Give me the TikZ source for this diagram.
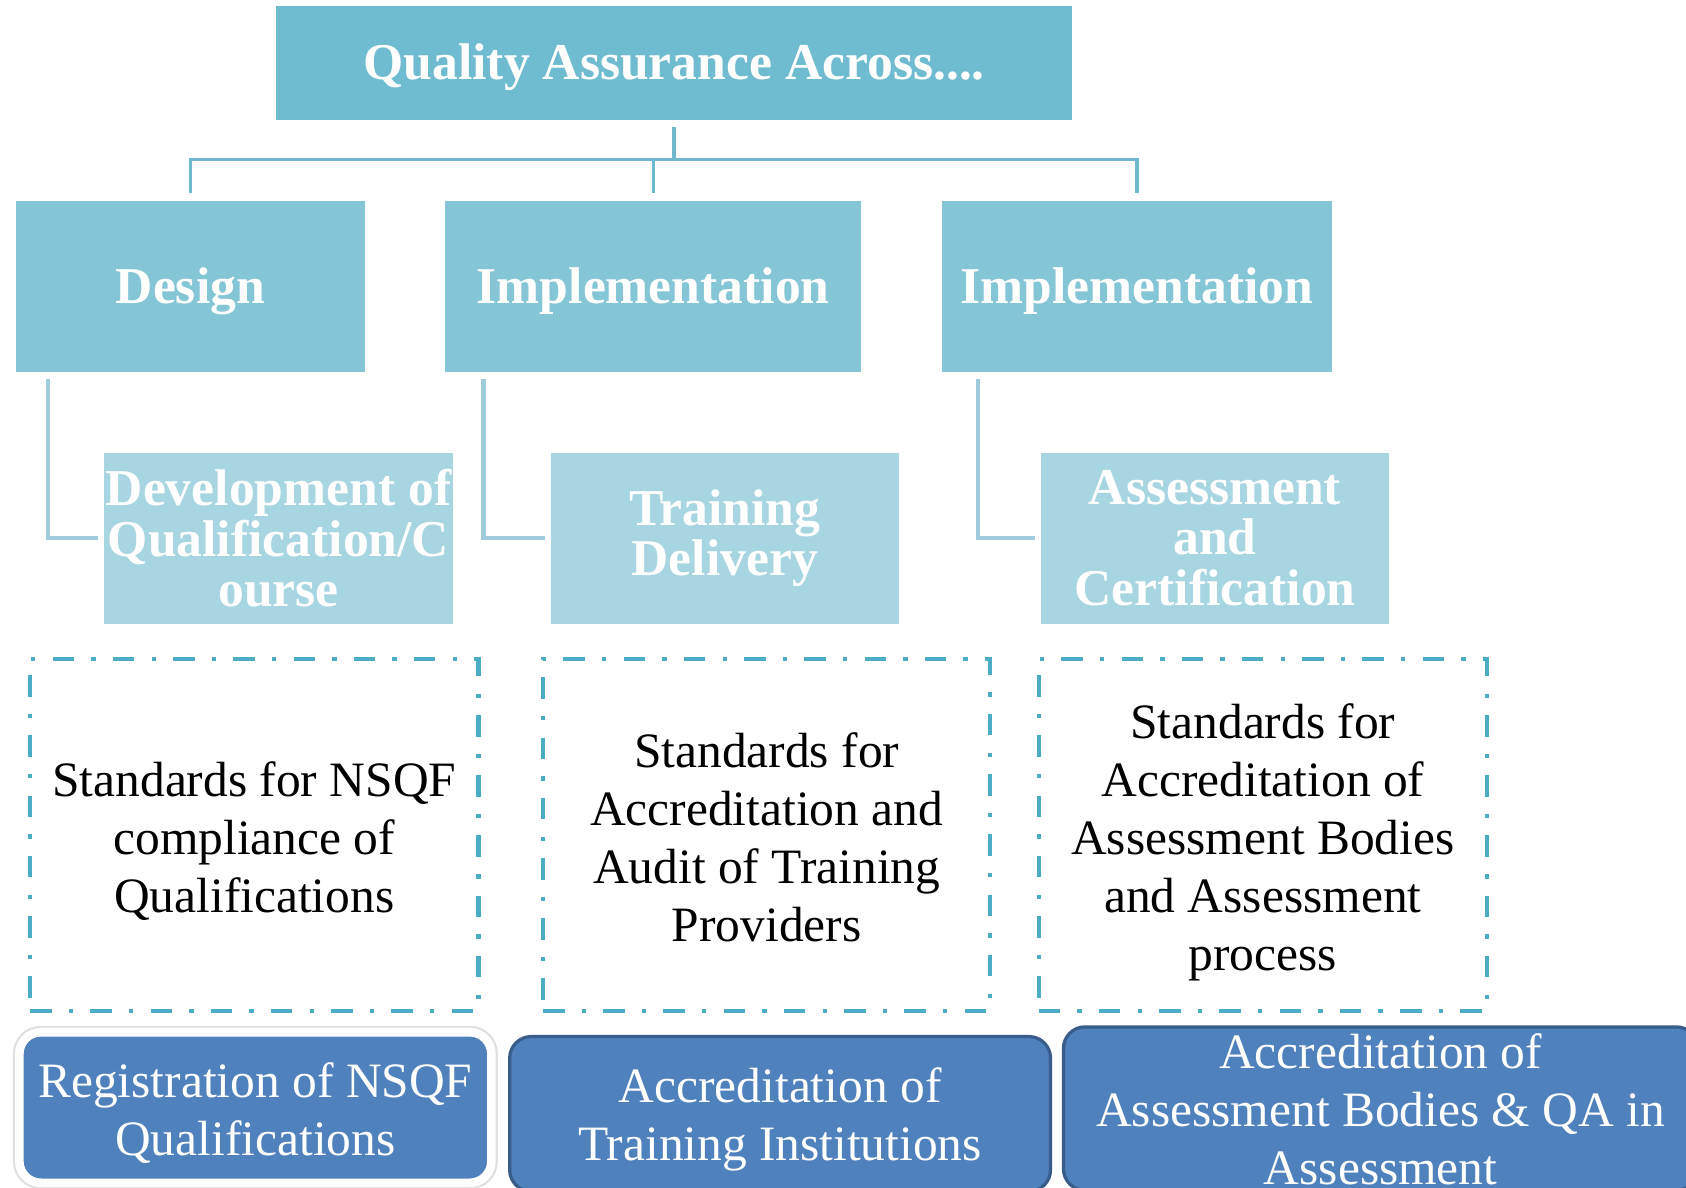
\documentclass[tikz,border=0pt]{standalone}
\usepackage{fontspec}
\setmainfont{Liberation Serif}
\definecolor{topc}{HTML}{6FBCD0}
\definecolor{midc}{HTML}{84C5D6}
\definecolor{lowc}{HTML}{A8D5E2}
\definecolor{connc}{HTML}{70B8CD}
\definecolor{elbc}{HTML}{9FCCDB}
\definecolor{dashc}{HTML}{4BACC6}
\definecolor{botc}{HTML}{4F81BD}
\definecolor{botb}{HTML}{385D8A}
\tikzset{
  hbox/.style={rectangle, inner sep=0pt, text=white, align=center,
    font=\bfseries\fontsize{24}{28}\selectfont},
  topbox/.style={hbox, fill=topc},
  midbox/.style={hbox, fill=midc, minimum height=79.5pt},
  lowbox/.style={hbox, fill=lowc, minimum width=162pt, minimum height=79.5pt,
    font=\bfseries\fontsize{24}{23.5}\selectfont},
  stdbox/.style={rectangle, inner sep=0pt, draw=dashc, line width=2pt,
    dash pattern=on 10pt off 8pt on 2pt off 8pt, minimum height=163.5pt},
  stdtext/.style={inner sep=0pt, align=center, font=\fontsize{23}{27}\selectfont},
  botbox/.style={rectangle, rounded corners=10pt, inner sep=0pt, fill=botc},
  bottext/.style={inner sep=0pt, text=white, align=center, font=\fontsize{23}{27}\selectfont},
  conn/.style={draw=connc, line width=1.6pt},
  elbow/.style={draw=elbc, line width=2pt}
}
\begin{document}
\begin{tikzpicture}[x=0.5pt,y=-0.5pt]
\useasboundingbox (0,0) rectangle (1568,1104);
\fill[white] (0,0) rectangle (1568,1104);
\clip (0,0) rectangle (1568,1104);

% top
\node[topbox, minimum width=370pt, minimum height=53pt] (top) at (627,59) {};
\node[hbox] (toptext) at ([yshift=-1.5pt]top.center) {Quality Assurance Across....};

% second row
\node[midbox, minimum width=162pt] (design) at (177,266.5) {};
\node[midbox, minimum width=193.5pt] (impla) at (607.5,266.5) {};
\node[midbox, minimum width=181.5pt] (implb) at (1057.5,266.5) {};
\node[hbox] (designtext) at ([yshift=-2pt]design.center) {Design};
\node[hbox] (implatext) at ([yshift=-2pt]impla.center) {Implementation};
\node[hbox] (implbtext) at ([yshift=-2pt]implb.center) {Implementation};

% third row
\node[lowbox] (dev) at (259,500.5) {Development of\\Qualification/C\\ourse};
\node[lowbox] (train) at (674,500.5) {Training\\Delivery};
\node[lowbox] (assess) at (1130,500.5) {Assessment\\and\\Certification};

% connectors from top
\draw[conn] ([yshift=-3pt]top.south) -- ++(0,30) -| ([yshift=3.5pt]design.north);
\draw[conn] ([yshift=-3pt]top.south) -- ++(0,30) -| ([yshift=3.5pt]impla.north);
\draw[conn] ([yshift=-3pt]top.south) -- ++(0,30) -| ([yshift=3.5pt]implb.north);

% elbows
\draw[elbow] ([xshift=15pt,yshift=-3pt]design.south west) |- ([xshift=-2.5pt]dev.west);
\draw[elbow] ([xshift=18pt,yshift=-3pt]impla.south west) |- ([xshift=-2.5pt]train.west);
\draw[elbow] ([xshift=17pt,yshift=-3pt]implb.south west) |- ([xshift=-2.5pt]assess.west);

% standards boxes
\node[stdbox, minimum width=208.5pt] (stda) at (236.5,776.5) {};
\node[stdbox, minimum width=208pt] (stdb) at (713,776.5) {};
\node[stdbox, minimum width=208.5pt] (stdc) at (1174.5,776.5) {};
\node[stdtext] (stdatext) at ([yshift=-3pt]stda.center) {Standards for NSQF\\compliance of\\Qualifications};
\node[stdtext] (stdbtext) at ([yshift=-1pt]stdb.center) {Standards for\\Accreditation and\\Audit of Training\\Providers};
\node[stdtext] (stdctext) at ([yshift=-3.5pt]stdc.center) {Standards for\\Accreditation of\\Assessment Bodies\\and Assessment\\process};

% bottom boxes
\node[botbox, minimum width=219.5pt, minimum height=70pt, draw=white, line width=4pt,
  preaction={draw=black!12, line width=6pt}] (rega) at (237.5,1030) {};
\node[botbox, minimum width=251.5pt, minimum height=72pt, draw=botb, line width=1.5pt] (regb) at (725.5,1036) {};
\node[botbox, minimum width=295pt, minimum height=76pt, draw=botb, line width=1.5pt] (regc) at (1284,1031) {};
\node[bottext] (regatext) at ([yshift=-2.5pt]rega.center) {Registration of NSQF\\Qualifications};
\node[bottext] (regbtext) at ([yshift=-2.5pt]regb.center) {Accreditation of\\Training Institutions};
\node[bottext] (regctext) at ([yshift=-0.5pt]regc.center) {Accreditation of\\Assessment Bodies \& QA in\\Assessment};
\end{tikzpicture}
\end{document}
